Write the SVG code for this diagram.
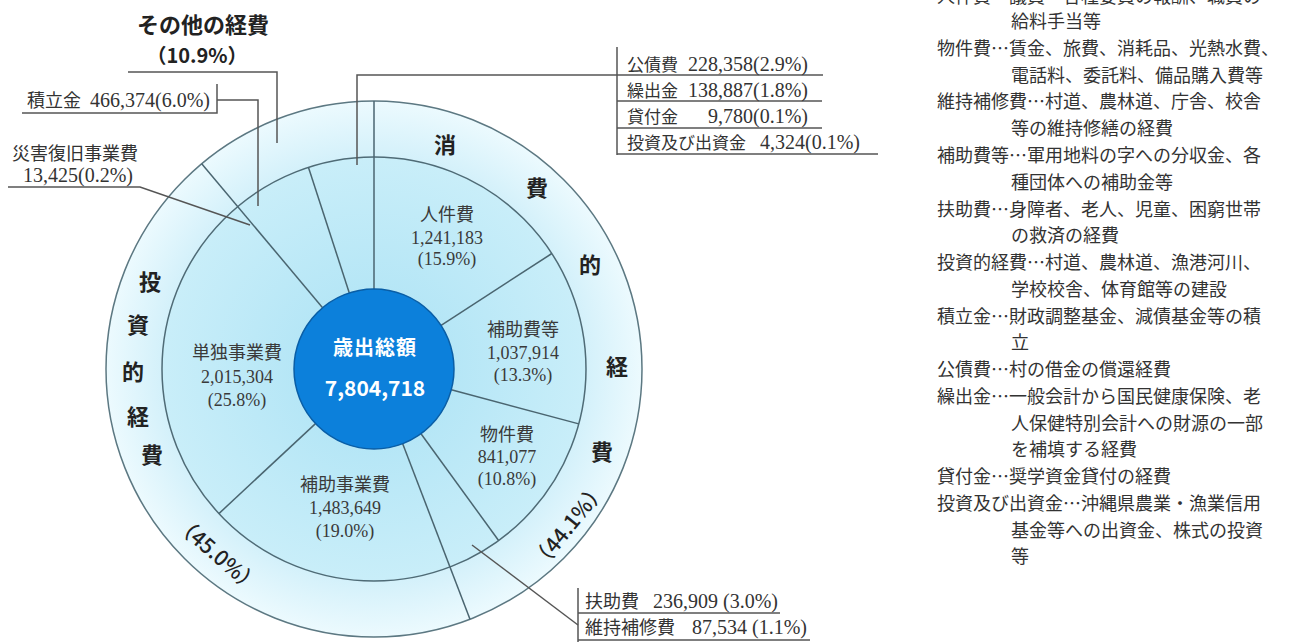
<svg xmlns="http://www.w3.org/2000/svg" width="1308" height="642" viewBox="0 0 1308 642">
<defs>
<radialGradient id="gOuter" gradientUnits="userSpaceOnUse" cx="374" cy="369" r="268">
<stop offset="0.78" stop-color="#d2f0fa"/>
<stop offset="1" stop-color="#ecfafe"/>
</radialGradient>
<radialGradient id="gInner" gradientUnits="userSpaceOnUse" cx="374" cy="369" r="212">
<stop offset="0.35" stop-color="#b5e6f6"/>
<stop offset="1" stop-color="#c9eef9"/>
</radialGradient>
<style>
.ln{fill:none;stroke:#4a6570;stroke-width:1.5}
.ldr{fill:none;stroke:#555;stroke-width:1.5}
.lbl{font-family:"Liberation Serif","Noto Sans CJK JP",serif;font-size:18px;fill:#3a3a3a;text-anchor:middle}
.box{font-family:"Liberation Serif","Noto Sans CJK JP",serif;font-size:17px;fill:#333}
.box18{font-family:"Liberation Serif","Noto Sans CJK JP",serif;font-size:18px;fill:#333}
.num{font-family:"Liberation Serif",serif;font-size:20px;fill:#333;text-anchor:end}
.nums{font-family:"Liberation Serif",serif;font-size:20px;fill:#333}
.big{font-family:"Noto Sans CJK JP","Liberation Sans",sans-serif;font-size:22px;font-weight:bold;fill:#222;text-anchor:middle}
.big2{font-family:"Noto Sans CJK JP","Liberation Sans",sans-serif;font-size:20px;font-weight:bold;fill:#222;text-anchor:middle}
.pct{font-family:"Noto Sans CJK JP","Liberation Sans",sans-serif;font-size:21px;font-weight:500;fill:#222;text-anchor:middle}
.col{font-family:"Noto Sans CJK JP",sans-serif;font-size:18px;fill:#333}
.ctr{font-family:"Noto Sans CJK JP","Liberation Sans",sans-serif;font-weight:bold;fill:#fff;text-anchor:middle}
</style>
</defs>
<rect width="1308" height="642" fill="#fff"/>

<g id="ring-outer">
<circle cx="374" cy="369" r="268" fill="url(#gOuter)" stroke="#5c7882" stroke-width="1.5"/>
</g>
<g id="ring-inner">
<circle cx="374" cy="369" r="212" fill="url(#gInner)" stroke="#4f6b76" stroke-width="1.5"/>
</g>

<g id="connectors">
<line class="ln" x1="374" y1="289" x2="374" y2="101"/>
<line class="ln" x1="441.1" y1="325.4" x2="551.8" y2="253.5"/>
<line class="ln" x1="451.3" y1="389.7" x2="578.8" y2="423.9"/>
<line class="ln" x1="421.0" y1="433.7" x2="498.6" y2="540.5"/>
<line class="ln" x1="402.7" y1="443.7" x2="470.0" y2="619.2"/>
<line class="ln" x1="315.5" y1="423.6" x2="218.9" y2="513.6"/>
<line class="ln" x1="322.6" y1="307.7" x2="201.7" y2="163.7"/>
<line class="ln" x1="349.3" y1="292.9" x2="308.5" y2="167.4"/>
<polyline class="ldr" points="128,72 277,72 277,143"/>
<polyline class="ldr" points="22,113 217,113 217,84"/>
<polyline class="ldr" points="217,100 258,100 258,206"/>
<polyline class="ldr" points="8,187 140,187 250,225"/>
<polyline class="ldr" points="357,165 357,75 823,75"/>
<line class="ldr" x1="617" y1="47" x2="617" y2="155"/>
<line class="ldr" x1="617" y1="101" x2="822" y2="101"/>
<line class="ldr" x1="617" y1="128" x2="822" y2="128"/>
<line class="ldr" x1="617" y1="154" x2="878" y2="154"/>
<polyline class="ldr" points="472,545 578,625"/>
<line class="ldr" x1="578" y1="588" x2="578" y2="642"/>
<line class="ldr" x1="578" y1="613" x2="780" y2="613"/>
<line class="ldr" x1="578" y1="640" x2="810" y2="640"/>
</g>

<g id="center">
<circle cx="374" cy="369" r="80" fill="#0c80db" stroke="#0a5ea6" stroke-width="1.5"/>
<text class="ctr" x="375" y="355" font-size="20" letter-spacing="1">歳出総額</text>
<text class="ctr" x="375" y="396" font-size="21">7,804,718</text>
</g>

<g id="node-jinkenhi">
<text class="lbl" x="447" y="221">人件費</text>
<text class="lbl" x="447" y="244">1,241,183</text>
<text class="lbl" x="447" y="265">(15.9%)</text>
</g>
<g id="node-hojohi">
<text class="lbl" x="523" y="336">補助費等</text>
<text class="lbl" x="523" y="359">1,037,914</text>
<text class="lbl" x="523" y="381">(13.3%)</text>
</g>
<g id="node-bukkenhi">
<text class="lbl" x="507" y="441">物件費</text>
<text class="lbl" x="507" y="463">841,077</text>
<text class="lbl" x="507" y="485">(10.8%)</text>
</g>
<g id="node-tandoku">
<text class="lbl" x="237" y="359">単独事業費</text>
<text class="lbl" x="237" y="383">2,015,304</text>
<text class="lbl" x="237" y="406">(25.8%)</text>
</g>
<g id="node-hojojigyo">
<text class="lbl" x="345" y="491">補助事業費</text>
<text class="lbl" x="345" y="514">1,483,649</text>
<text class="lbl" x="345" y="537">(19.0%)</text>
</g>

<g id="group-shohi">
<text class="big" x="445" y="153">消</text>
<text class="big" x="537" y="196">費</text>
<text class="big" x="590" y="273">的</text>
<text class="big" x="617" y="375">経</text>
<text class="big" x="602" y="460">費</text>
<text class="pct" transform="translate(569,526) rotate(-51)" y="7">（44.1%）</text>
</g>
<g id="group-toshi">
<text class="big" x="150" y="290">投</text>
<text class="big" x="138" y="333">資</text>
<text class="big" x="133" y="380">的</text>
<text class="big" x="138" y="425">経</text>
<text class="big" x="152" y="463">費</text>
<text class="pct" transform="translate(217,555) rotate(41)" y="7">（45.0%）</text>
</g>
<g id="group-sonota">
<text class="big" x="203" y="33">その他の経費</text>
<text class="big2" x="197" y="63">（10.9%）</text>
</g>

<g id="node-tsumitate">
<text class="box18" x="27" y="107">積立金</text>
<text class="num" x="210" y="107">466,374(6.0%)</text>
</g>
<g id="node-saigai">
<text class="box18" x="12" y="160">災害復旧事業費</text>
<text class="nums" x="23" y="182">13,425(0.2%)</text>
</g>
<g id="node-kosaihi">
<text class="box" x="627" y="71">公債費</text>
<text class="num" x="808" y="71">228,358(2.9%)</text>
</g>
<g id="node-kuridashi">
<text class="box" x="627" y="97">繰出金</text>
<text class="num" x="808" y="97">138,887(1.8%)</text>
</g>
<g id="node-kashitsuke">
<text class="box" x="627" y="123">貸付金</text>
<text class="num" x="808" y="123">9,780(0.1%)</text>
</g>
<g id="node-toshishusshi">
<text class="box" x="627" y="149">投資及び出資金</text>
<text class="num" x="860" y="149">4,324(0.1%)</text>
</g>
<g id="node-fujohi">
<text class="box18" x="585" y="608">扶助費</text>
<text class="num" x="778" y="608">236,909 (3.0%)</text>
</g>
<g id="node-ijihoshu">
<text class="box18" x="585" y="634">維持補修費</text>
<text class="num" x="807" y="634">87,534 (1.1%)</text>
</g>

<g id="notes">
<text class="col" x="937" y="3">人件費…議員・各種委員の報酬、職員の</text>
<text class="col" x="1011" y="28">給料手当等</text>
<text class="col" x="937" y="55">物件費…賃金、旅費、消耗品、光熱水費、</text>
<text class="col" x="1011" y="82">電話料、委託料、備品購入費等</text>
<text class="col" x="937" y="108">維持補修費…村道、農林道、庁舎、校舎</text>
<text class="col" x="1011" y="135">等の維持修繕の経費</text>
<text class="col" x="937" y="162">補助費等…軍用地料の字への分収金、各</text>
<text class="col" x="1011" y="189">種団体への補助金等</text>
<text class="col" x="937" y="216">扶助費…身障者、老人、児童、困窮世帯</text>
<text class="col" x="1011" y="242">の救済の経費</text>
<text class="col" x="937" y="269">投資的経費…村道、農林道、漁港河川、</text>
<text class="col" x="1011" y="296">学校校舎、体育館等の建設</text>
<text class="col" x="937" y="323">積立金…財政調整基金、減債基金等の積</text>
<text class="col" x="1011" y="349">立</text>
<text class="col" x="937" y="376">公債費…村の借金の償還経費</text>
<text class="col" x="937" y="403">繰出金…一般会計から国民健康保険、老</text>
<text class="col" x="1011" y="430">人保健特別会計への財源の一部</text>
<text class="col" x="1011" y="456">を補填する経費</text>
<text class="col" x="937" y="483">貸付金…奨学資金貸付の経費</text>
<text class="col" x="937" y="510">投資及び出資金…沖縄県農業・漁業信用</text>
<text class="col" x="1011" y="537">基金等への出資金、株式の投資</text>
<text class="col" x="1011" y="563">等</text>
</g>
</svg>
